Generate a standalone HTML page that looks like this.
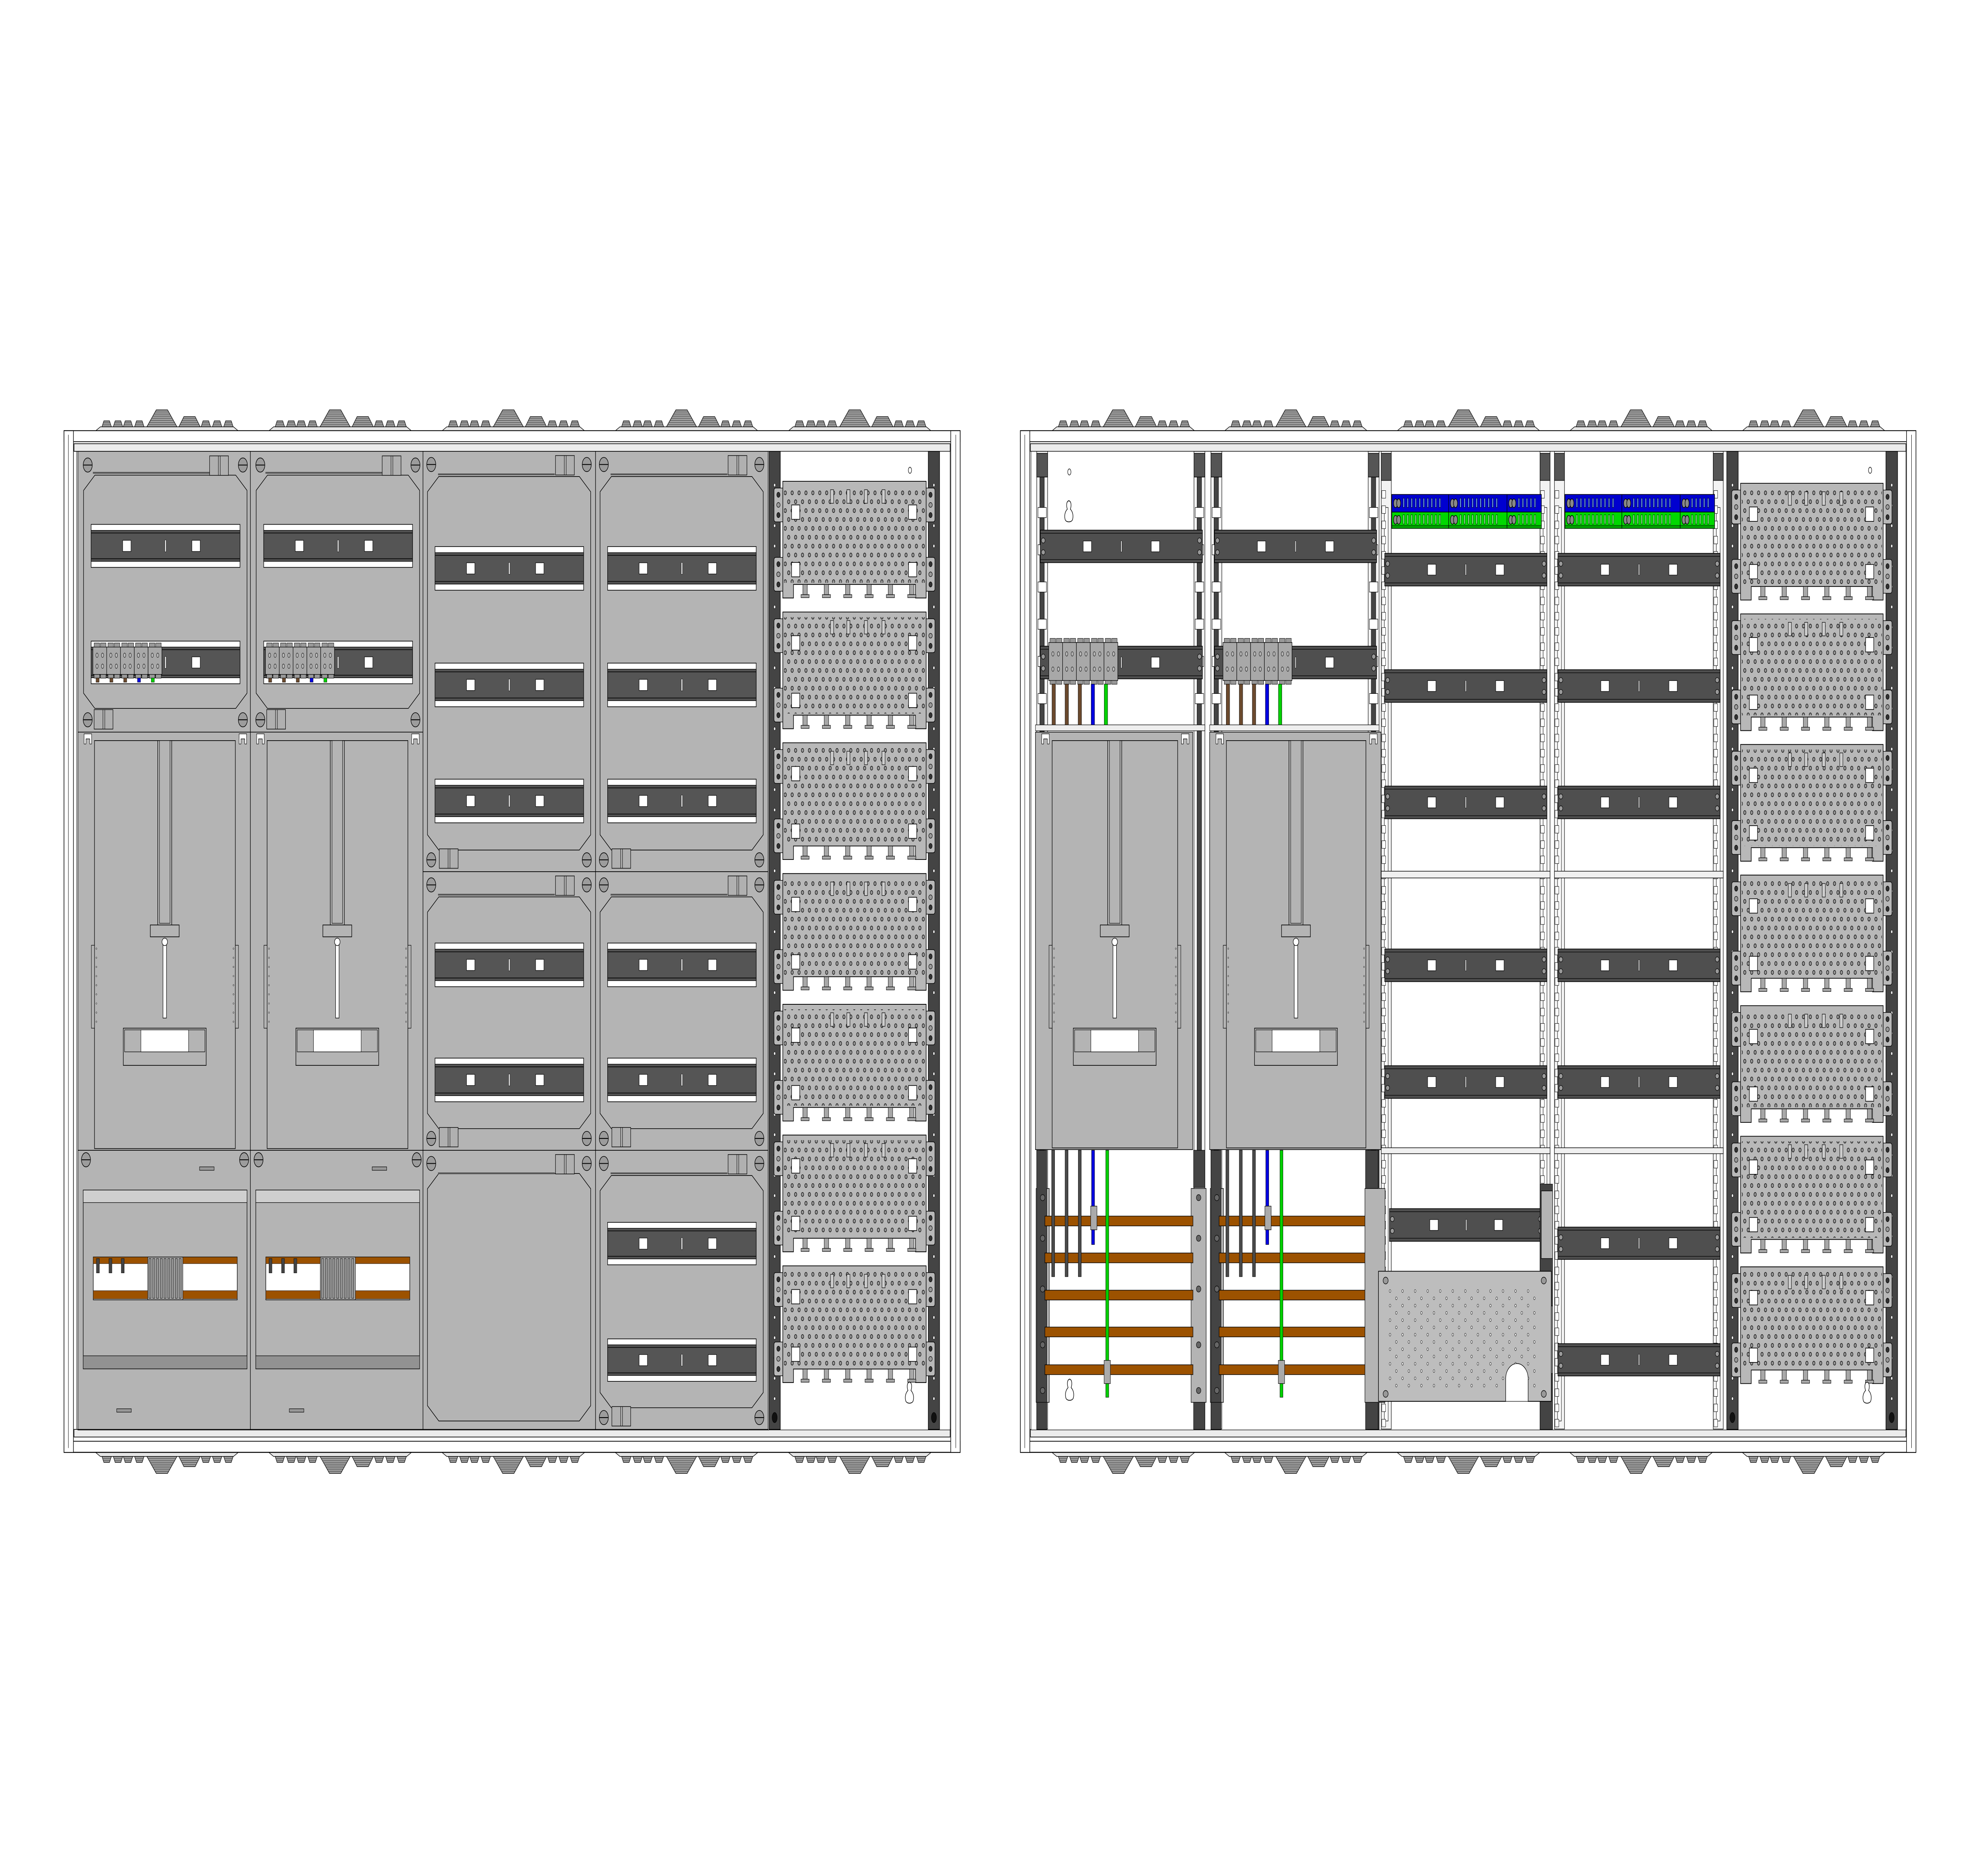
<!DOCTYPE html>
<html><head><meta charset="utf-8"><style>html,body{margin:0;padding:0;background:#fff;overflow:hidden;width:100%;height:100%}svg{display:block;position:fixed;left:0;top:0;width:100vw;height:100vh}</style></head>
<body>
<svg id="s" xmlns="http://www.w3.org/2000/svg" viewBox="0 0 1568 1109" preserveAspectRatio="none">
<defs>
<pattern id="dots" x="0" y="0" width="5.5" height="10.5" patternUnits="userSpaceOnUse">
<ellipse cx="1.4" cy="2.6" rx="0.95" ry="1.15" fill="#9a9a9a" stroke="#000" stroke-width="0.35"/>
<ellipse cx="4.15" cy="7.85" rx="0.95" ry="1.15" fill="#9a9a9a" stroke="#000" stroke-width="0.35"/>
</pattern>
<pattern id="holes" x="0" y="0" width="10" height="8.6" patternUnits="userSpaceOnUse">
<ellipse cx="2.5" cy="2.1" rx="0.6" ry="0.85" fill="#fff" stroke="#000" stroke-width="0.25"/>
<ellipse cx="7.5" cy="6.4" rx="0.6" ry="0.85" fill="#fff" stroke="#000" stroke-width="0.25"/>
</pattern>
</defs>
<g id="g"></g>
</svg>
<script>
let o='';
const r=(x,y,w,h,f,s='#000',sw=0.4)=>{o+=`<rect x="${x}" y="${y}" width="${w}" height="${h}" fill="${f}" stroke="${s}" stroke-width="${sw}"/>`;};
const p=(d,f,s='#000',sw=0.4)=>{o+=`<path d="${d}" fill="${f}" stroke="${s}" stroke-width="${sw}"/>`;};
const e=(x,y,rx,ry,f,s='#000',sw=0.4)=>{o+=`<ellipse cx="${x}" cy="${y}" rx="${rx}" ry="${ry}" fill="${f}" stroke="${s}" stroke-width="${sw}"/>`;};
const l=(x1,y1,x2,y2,s='#000',sw=0.4)=>{o+=`<line x1="${x1}" y1="${y1}" x2="${x2}" y2="${y2}" stroke="${s}" stroke-width="${sw}"/>`;};

function cone(cx,base,bw,tw,h,d){
  const y2=base-h*d;
  p(`M${cx-bw/2},${base}L${cx-tw/2},${y2}L${cx+tw/2},${y2}L${cx+bw/2},${base}Z`,'#a0a0a0','#000',0.35);
  const n=Math.max(2,Math.round(h/1.3));
  for(let i=1;i<n;i++){const t=i/n;const yy=base-h*d*t;const hw=(bw+(tw-bw)*t)/2;l(cx-hw,yy,cx+hw,yy,'#333',0.25);}
}
function gland(cx,base,d){
  p(`M${cx-57},${base}L${cx-53},${base-2.5*d}L${cx+53},${base-2.5*d}L${cx+57},${base}Z`,'#e6e6e6','#000',0.35);
  const b=base-2.5*d;
  [-48,-39,-31,-22,31,40,49].forEach(ox=>cone(cx+ox,b,7.5,4.5,3.5,d));
  cone(cx-4,b,24,9,10,d);
  cone(cx+18,b,17,9,6,d);
}
function screw(x,y){e(x,y,3.6,4.2,'#9c9c9c','#000',0.4);l(x-3.4,y,x+3.4,y,'#000',0.5);}
function hinge(x,y){r(x,y,15,11.5,'#b0b0b0','#000',0.35);l(x+7,y,x+7,y+11.5,'#000',0.3);l(x+8.5,y,x+8.5,y+11.5,'#000',0.3);}
function wrail(x1,x2,y,h){
  const w=x2-x1;
  r(x1,y,w,h,'#fff','#000',0.4);
  r(x1,y+h*0.14,w,h*0.72,'#555','#000',0.35);
  l(x1,y+h*0.2,x2,y+h*0.2,'#111',0.5);l(x1,y+h*0.8,x2,y+h*0.8,'#111',0.5);
  const cy=y+h/2;
  r(x1+w*0.24-3.3,cy-3.3,6.6,6.6,'#fff','#000',0.3);
  r(x1+w*0.705-3.3,cy-3.3,6.6,6.6,'#fff','#000',0.3);
  r(x1+w/2-0.5,cy-3.5,1,7,'#fff','#000',0.2);
}
function drail(x1,x2,y,h,sq1,sq2){
  const w=x2-x1;
  r(x1,y,w,h,'#4f4f4f','#000',0.4);
  l(x1,y+1.8,x2,y+1.8,'#111',0.4);l(x1,y+h-1.8,x2,y+h-1.8,'#111',0.4);
  const cy=y+h/2;
  r(x1+w*(sq1||0.3)-3.3,cy-3.2,6.6,6.4,'#fff','#000',0.3);
  r(x1+w*(sq2||0.72)-3.3,cy-3.2,6.6,6.4,'#fff','#000',0.3);
  r(x1+w*((sq1||0.3)+(sq2||0.72))/2-0.4,cy-3.3,0.8,6.6,'#fff','#000',0.2);
  e(x1+2.3,cy-3.5,1.5,1.5,'#999','#000',0.3);e(x1+2.3,cy+3.5,1.5,1.5,'#999','#000',0.3);
  e(x2-2.3,cy-3.5,1.5,1.5,'#999','#000',0.3);e(x2-2.3,cy+3.5,1.5,1.5,'#999','#000',0.3);
}
function octa(x1,y1,x2,y2,c){
  p(`M${x1+c},${y1}L${x2-c},${y1}L${x2},${y1+c}L${x2},${y2-c}L${x2-c},${y2}L${x1+c},${y2}L${x1},${y2-c}L${x1},${y1+c}Z`,'#b4b4b4','#000',0.4);
}
function terms(x1,y1,n,bw,h){
  for(let i=0;i<n;i++){const x=x1+i*bw;r(x,y1,bw,h,'#a8a8a8','#000',0.35);
    for(const yy of [y1+h*0.3,y1+h*0.7]){e(x+bw*0.3,yy,0.9,1.3,'#bbb','#000',0.25);e(x+bw*0.7,yy,0.9,1.3,'#bbb','#000',0.25);}
    r(x+1,y1-2.4,bw*0.4,2.4,'#999','#000',0.25);r(x+bw*0.55,y1-2.4,bw*0.4,2.4,'#999','#000',0.25);
    r(x+1,y1+h,bw*0.4,2.2,'#999','#000',0.25);r(x+bw*0.55,y1+h,bw*0.4,2.2,'#999','#000',0.25);
  }
}
function meter(x0,w,y1,y2){
  r(x0,y1,w,y2-y1,'#b4b4b4','#000',0.4);
  const ix1=x0+13.3, ix2=x0+w-12;
  r(ix1,y1+5,ix2-ix1,y2-y1-6,'#b4b4b4','#000',0.4);
  const cx=x0+w*0.5+0.5;
  r(cx-5.6,y1+5,11.2,110,'#b4b4b4','#000',0.4);
  r(cx-4.2,y1+5,8.4,108,'#b4b4b4','#000',0.3);
  r(cx-11.5,y1+114,23,7,'#b4b4b4','#000',0.4);
  p(`M${cx-1.4},${y1+125}L${cx-1.4},${y1+169}L${cx+1.4},${y1+169}L${cx+1.4},${y1+125}Z`,'#fff','#000',0.35);
  e(cx,y1+124,2.2,2.2,'#fff','#000',0.35);
  r(cx-33,y1+175,66,22,'#b4b4b4','#000',0.4);
  r(cx-32,y1+176,64,13,'#b4b4b4','#000',0.3);
  r(cx-19,y1+176,38,13,'#fff','#000',0.3);
  r(ix1-2.5,y1+126,2.5,49,'#b4b4b4','#000',0.3);
  r(ix2,y1+126,2.5,49,'#b4b4b4','#000',0.3);
  for(let k=0;k<9;k++){e(ix1+1.5,y1+128+k*5.4,0.4,0.4,'#fff','#000',0.2);e(ix2-1.5,y1+128+k*5.4,0.4,0.4,'#fff','#000',0.2);}
  for(const cxx of [x0+5,x0+w-9]){p(`M${cxx},${y1+1}h6v6h-1.5v-3h-3v3h-1.5Z`,'#fff','#000',0.3);}
}
function plate(x1,x2,top){
  for(const ty of [top+4,top+45]){
    p(`M${x1-7},${ty+1.5}q0,-1.5 1.5,-1.5h6v20h-6q-1.5,0 -1.5,-1.5Z`,'#b8b8b8','#000',0.35);
    p(`M${x2+7},${ty+1.5}q0,-1.5 -1.5,-1.5h-6v20h6q1.5,0 1.5,-1.5Z`,'#b8b8b8','#000',0.35);
    e(x1-3.5,ty+4,1.3,1.5,'#333','#000',0.3);e(x1-3.5,ty+16,1.3,1.5,'#333','#000',0.3);
    e(x2+3.5,ty+4,1.3,1.5,'#333','#000',0.3);e(x2+3.5,ty+16,1.3,1.5,'#333','#000',0.3);
    e(x1-3.5,ty+10,1.4,1.4,'#999','#000',0.3);e(x2+3.5,ty+10,1.4,1.4,'#999','#000',0.3);
  }
  p(`M${x1},${top}H${x2}V${top+69}H${x2-8.5}V${top+61}H${x1+8.5}V${top+69}H${x1}Z`,'#b8b8b8','#000',0.45);
  o+=`<rect x="${x1+1}" y="${top+3}" width="${x2-x1-2}" height="${57}" fill="url(#dots)"/>`;
  for(const [sx,sy] of [[x1+7,top+14],[x2-14,top+14],[x1+7,top+48],[x2-14,top+48]]) r(sx,sy,6.5,8.5,'#fff','#000',0.4);
  for(const sx of [x1+38,x1+51,x1+65,x1+79]) r(sx,top+5,2.5,8,'#ccc','#000',0.3);
  for(let k=0;k<6;k++){const fx=x1+16+k*17;r(fx,top+61,3.5,6,'#a8a8a8','#000',0.3);r(fx-1.5,top+67,6.5,1.8,'#a8a8a8','#000',0.3);}
}
function strip(xa,xb,ya,yb){
  r(xa,ya,xb-xa,yb-ya,'#444','#000',0.4);
  for(let y=ya+20;y<yb-10;y+=12){e((xa+xb)/2,y,0.7,1,'#fff','#000',0.2);}
}
function keyhole(x,y){p(`M${x},${y}c-2.5,0 -2.5,3 -1.6,5 c-2,1.5 -2.5,4 -1.8,6 c0.6,2 5.4,2 6,0 c0.7,-2 0.2,-4.5 -1.8,-6 c0.9,-2 0.9,-5 -1.6,-5Z`,'#fff','#000',0.4);}

function cabinet(x1,x2,gc){
  gc.forEach(c=>{gland(c,254.8,1);gland(c,858.5,-1);});
  r(x1,254.6,x2-x1,604,'#fff','#000',0.5);
  r(x1,254.6,x2-x1,6.5,'#fff','#000',0.45);
  r(x1+8,262.3,x2-x1-16,4.5,'#ececec','#000',0.4);
  r(x1,852,x2-x1,6.5,'#fff','#000',0.45);
  r(x1+8,845,x2-x1-16,4.5,'#ececec','#000',0.4);
  r(x1,254.6,7.5,604,'#fff','#000',0.45);
  r(x2-7.5,254.6,7.5,604,'#fff','#000',0.45);
  l(x1+3.5,257,x1+3.5,856,'#000',0.3);l(x2-3.5,257,x2-3.5,856,'#000',0.3);
  l(x1+10,266.8,x1+10,845,'#000',0.3);l(x2-10,266.8,x2-10,845,'#000',0.3);
}

// LEFT CABINET
cabinet(51,765,[133,271,409,547,685]);
r(62,266.8,550.5,578.5,'#b4b4b4','#000',0.4);
for(let i=0;i<2;i++){
  const x0=62+137.5*i, W=137.5;
  r(x0,266.8,W,166,'#b4b4b4','#000',0.4);
  octa(x0+4.6,280.9,x0+134.8,418.8,9);
  l(x0+12,279.5,x0+105,279.5,'#555',1);
  screw(x0+7.9,274.9);screw(x0+131.5,274.9);screw(x0+7.9,425.5);screw(x0+131.5,425.5);
  hinge(x0+105,269.5);hinge(x0+13,419.5);
  wrail(x0+10.6,x0+129.2,310,25.4);
  wrail(x0+10.6,x0+129.2,379,25.2);
  terms(x0+12,382.5,5,11,16.2);
  const cols=['#6b4a2e','#6b4a2e','#6b4a2e','#0000e0','#00d000'];
  cols.forEach((c,k)=>r(x0+14.5+k*11,400.8,2.5,2.5,c,'#000',0.2));
  meter(x0,W,432.8,680);
  r(x0,680,W,165,'#b4b4b4','#000',0.4);
  screw(x0+6.5,685.6);screw(x0+132.5,685.6);
  r(x0+97,689.8,11.6,2,'#999','#000',0.3);
  r(x0+31,832.8,11.6,2,'#999','#000',0.3);
  r(x0+4.3,703.5,130.5,105.7,'#b4b4b4','#000',0.4);
  r(x0+4.3,703.5,130.5,7.4,'#cfcfcf','#000',0.3);
  r(x0+4.3,801.5,130.5,7.7,'#929292','#000',0.3);
  r(x0+12.3,743.1,114.7,25.3,'#fff','#000',0.4);
  r(x0+12.3,743.1,114.7,3.9,'#9c5200','#000',0.2);
  r(x0+12.3,763,114.7,4.8,'#9c5200','#000',0.2);
  r(x0+55.7,743.1,28,25.3,'#a8a8a8','#000',0.3);
  for(let k=0;k<9;k++) r(x0+56.7+k*3,744,1.6,23.5,'#999','#000',0.25);
  for(const px of [14.8,24.8,34.6]) r(x0+px,744,2.4,8.5,'#444','#000',0.2);
}
for(let i=2;i<4;i++){
  const x0=62+137.5*i, W=137.5;
  const secs=[[266.8,515.3],[515.3,680],[680,845]];
  secs.forEach(([a,b],si)=>{
    r(x0,a,W,b-a,'#b4b4b4','#000',0.4);
    if(i==2&&si==2){octa(x0+3.6,a+13.7,x0+133.6,b-5,9);}
    else octa(x0+3.6,a+14.9,x0+133.6,b-12.8,9);
    l(x0+12,a+13.6,x0+105,a+13.6,'#555',1);
    screw(x0+6.6,a+7.8);screw(x0+130.5,a+7.8);
    hinge(x0+105.6,a+2.5);
    if(!(i==2&&si==2)){screw(x0+6.6,b-7);screw(x0+130.5,b-7);hinge(x0+13,b-13.5);}
  });
  const X1=x0+9.6,X2=x0+128;
  [323.1,392,460.6,557.5,625.5].forEach(y=>wrail(X1,X2,y,25.8));
  if(i==3){wrail(X1,X2,722.6,25.1);wrail(X1,X2,791.5,25.1);}
}
r(612,266.8,145,578.5,'#fff','#000',0.3);
strip(612.7,621.7,266.8,845);strip(739.6,748.6,266.8,845);
e(725,278,1.3,1.8,'#fff','#000',0.35);
for(let k=0;k<7;k++) plate(623.7,737.9,284.5+77.3*k);
keyhole(725,817);
e(617.2,838,2,3,'#111','#000',0.3);e(744.1,838,2,3,'#111','#000',0.3);

// RIGHT CABINET
cabinet(813,1526.5,[895,1032.5,1170,1307.5,1445]);
r(821.5,266.8,697,578.5,'#fff','#000',0.3);
for(let i=0;i<2;i++){
  const x0=825+138.8*i;
  for(const rx of [x0+1,x0+126.3]){
    r(rx,266.8,8.7,578,'#f2f2f2','#000',0.35);
    r(rx+2.5,282,3.5,410,'#444','#000',0.3);
    r(rx,268,8.7,14,'#555','#000',0.35);
    for(let y=300;y<430;y+=22) r(rx+1,y,6.7,6,'#fff','#000',0.3);
  }
  if(i==0){e(852,279,1.3,1.8,'#fff','#000',0.35);keyhole(852,296);}
  drail(x0+3.9,x0+133,313.4,19.2,0.29,0.71);
  drail(x0+3.9,x0+133,382,19.3,0.29,0.71);
  terms(x0+10.6,379.8,5,11,22.5);
  const cols=['#6b4a2e','#6b4a2e','#6b4a2e','#0000e0','#00d000'];
  cols.forEach((c,k)=>r(x0+13.2+k*10.4,404.4,2.7,24.6,c,'#000',0.25));
  r(x0,428.5,135,3.5,'#eee','#000',0.3);
  meter(x0,i==0?125.3:136.5,432.8,679.6);
  r(x0+0.5,702.6,10.5,126.4,'#b4b4b4','#000',0.35);
  r(x0+124,702.6,12,126.4,'#b4b4b4','#000',0.35);
  r(x0+1,680,8,165,'#444','#000',0.3);
  r(x0+126,680,9,22,'#444','#000',0.3);
  r(x0+126,829,9,16,'#444','#000',0.3);
  r(x0+1,829,8,16,'#444','#000',0.3);
  for(const sy of [708,732,762,795,822]){e(x0+5.7,sy,1.8,1.8,'#666','#000',0.3);e(x0+130,sy,1.8,1.8,'#666','#000',0.3);}
  for(const by of [718.9,740.7,762.7,784.5,806.8]) r(x0+7.5,by,118,5.8,'#9c5200','#000',0.35);
  for(const wx of [14.1,24.8,35.3]) r(x0+wx-1.2,680,2.4,74.7,'#4a4a4a','#000',0.25);
  r(x0+45.9-1.2,680,2.4,55.7,'#0000e0','#000',0.25);
  r(x0+56,680,2.4,146,'#00d000','#000',0.25);
  r(x0+44,713,5,14,'#aaa','#000',0.3);
  r(x0+54.7,804.2,5,13.7,'#aaa','#000',0.3);
  if(i==0)keyhole(852.6,815.3);
}
for(let i=0;i<2;i++){
  const x0=1098.5+138*i;
  for(const rx of [x0+2,x0+128.5]){
    r(rx,266.8,8,578,'#f3f3f3','#000',0.35);
    r(rx+2.5,300,3,540,'#fff','#000',0.3);
    for(let y=290;y<840;y+=9) r(rx+0.5,y,3,4.5,'#fff','#000',0.25);
    r(rx,268,8,16,'#555','#000',0.35);
  }
  r(x0+2,515,134.5,4,'#f0f0f0','#000',0.35);
  r(x0+2,678.5,134.5,3.5,'#f0f0f0','#000',0.35);
  const tx1=x0+10.4, tx2=x0+129.6;
  r(tx1,292.3,tx2-tx1,10.4,'#0000d0','#000',0.4);
  r(tx1,302.7,tx2-tx1,9.7,'#00d800','#000',0.4);
  r(tx1,310.6,tx2-tx1,1.8,'#00a000','#000',0.2);
  for(const sx of [0,0.38,0.77]){const bx=tx1+(tx2-tx1)*sx;
    l(bx,292.3,bx,312.4,'#000',0.4);
    e(bx+3,297.5,1.6,2.6,'#888','#000',0.4);e(bx+5.5,297.5,1.6,2.6,'#888','#000',0.4);
    e(bx+3,307.3,1.6,2.6,'#888','#000',0.4);e(bx+5.5,307.3,1.6,2.6,'#888','#000',0.4);
    for(let k=0;k<(sx>0.7?5:10);k++){r(bx+9+k*3.2,294.5,1,5.5,'#6aa0ff','#000',0.25);r(bx+9+k*3.2,304.3,1,5.5,'#90ff90','#000',0.25);}
  }
  [327.1,395.9,464.7,561,630].forEach(y=>drail(x0+4.8,x0+134,y,19.3,0.29,0.71));
  if(i==0){drail(x0+8.5,x0+131,714.5,19.3,0.29,0.71);}
  else {drail(x0+4.8,x0+134,725.4,19.1,0.29,0.71);drail(x0+4.8,x0+134,794.3,19.1,0.29,0.71);}
}
r(1088,680,10,165,'#444','#000',0.3);
r(1087.5,702.6,16,126.4,'#b4b4b4','#000',0.35);
r(1227,700,10,145,'#444','#000',0.3);
r(1228,704,9,40,'#b4b4b4','#000',0.35);
r(1228,772,9,40,'#b4b4b4','#000',0.35);
p(`M1098.3,751.5H1236V828.4H1217.5V815A8.9,8.9 0 0 0 1199.7,815V828.4H1098.3Z`,'#bdbdbd','#000',0.45);
o+=`<rect x="1106" y="760" width="120" height="62" fill="url(#holes)"/>`;
o+=`<path d="M1199.7,828.4V815A8.9,8.9 0 0 1 1217.5,815V828.4Z" fill="#fff" stroke="#000" stroke-width="0.3"/>`;
for(const [sx,sy] of [[1104,757],[1230,757],[1104,824],[1230,824]]) e(sx,sy,2,2,'#999','#000',0.35);
strip(1375.8,1384.9,266.8,845);strip(1502.6,1511.9,266.8,845);
for(let k=0;k<7;k++) plate(1386.8,1500.4,285.7+77.2*k);
e(1490,278,1.3,1.8,'#fff','#000',0.35);
keyhole(1488,817);
e(1380.3,838,2,3,'#111','#000',0.3);e(1507.2,838,2,3,'#111','#000',0.3);

document.getElementById('g').innerHTML=o;
</script>
</body></html>
